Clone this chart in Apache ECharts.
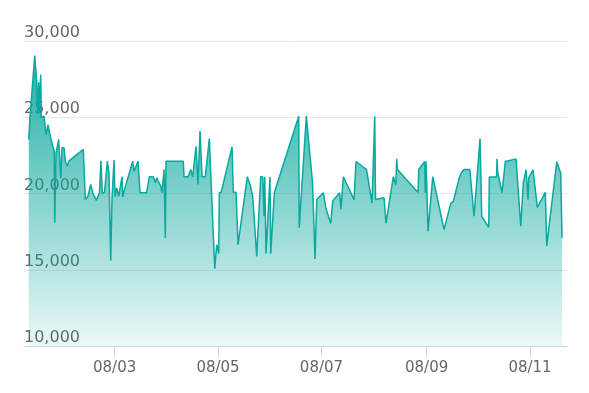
<!DOCTYPE html>
<html><head><meta charset="utf-8">
<script src="https://cdn.jsdelivr.net/npm/echarts@6/dist/echarts.min.js"></script>
<style>html,body{margin:0;padding:0;background:#fff}#c{width:589px;height:393px}</style>
</head><body><div id="c"></div>
<script>
// day of year 2008 (0 = Jan 1)
const days = [9.34,10.10,12.88,14.05,14.64,15.23,15.71,16.41,16.77,18.36,19.54,20.72,22.31,23.49,24.38,24.67,25.44,26.20,27.03,28.21,28.98,30.16,30.92,32.10,32.93,41.54,42.72,44.31,45.90,47.08,49.21,51.09,51.92,52.75,54.04,55.70,56.70,57.70,58.47,59.23,59.65,60.24,61.24,62.42,64.37,64.78,65.55,70.68,71.44,73.80,74.98,78.93,80.47,82.83,84.00,84.83,85.60,87.19,87.96,89.14,89.90,90.32,100.52,100.93,103.29,104.89,106.06,108.01,109.19,110.37,111.55,113.50,115.85,119.04,120.22,121.40,121.75,122.93,129.24,130.01,131.60,132.78,138.27,140.16,141.45,143.81,146.17,147.35,148.12,148.53,149.30,151.66,152.07,154.19,168.58,168.88,173.07,176.72,178.20,179.20,183.09,184.68,187.46,188.64,192.71,193.47,194.89,201.20,202.38,208.57,211.81,213.41,213.88,218.89,220.07,224.38,225.85,226.38,226.74,238.95,239.36,242.90,243.25,243.66,244.85,247.62,254.28,258.23,259.77,263.30,264.48,266.08,269.50,271.97,275.51,276.52,280.64,281.00,285.24,285.54,285.95,288.49,290.43,296.75,299.52,301.05,302.64,303.82,304.24,306.77,309.31,314.03,314.85,320.75,323.11,323.88];
const values = [23540,25000,29050,27300,25200,27300,25300,27800,25000,25070,23870,24500,23650,23100,22800,18080,22670,22700,23540,21000,23000,23000,22120,21790,22120,22890,19600,19820,20600,20050,19550,20050,22150,20000,20080,22120,21300,15600,19700,19700,22200,19800,20370,19820,21100,19780,20150,22120,21460,22120,20050,20050,21100,21100,20700,21030,21000,20480,20050,21570,17090,22120,22120,21100,21100,21570,21100,23100,20600,24100,21100,21100,23600,15060,16650,16060,20050,20100,23060,20080,20080,16650,21100,20500,19800,15880,21100,21100,18510,21100,16060,21100,16060,20050,25070,17750,25100,20700,15700,19600,20050,19000,18030,19500,20050,18950,21100,19600,22100,21570,19370,25070,19600,19720,18050,21100,20550,22270,21570,20060,21570,22100,20050,22100,17530,21100,17640,19340,19500,21030,21360,21570,21570,18510,23600,18490,17780,21080,21080,22270,21400,20050,22100,22270,17850,20700,21570,19600,21030,21550,19090,20080,16560,22080,21330,17090];
const tickDays = [60,121,182,244,305];
const tickLabels = ['08/03','08/05','08/07','08/09','08/11'];

const chart = echarts.init(document.getElementById('c'));
chart.setOption({
  animation:false,
  grid:{left:24,right:22,top:41,bottom:47},
  xAxis:{
    type:'value', min:6.56, max:326.8,
    axisLine:{lineStyle:{color:'#ccd6eb'}},
    axisTick:{customValues:tickDays, length:10, lineStyle:{color:'#ccd6eb'}},
    axisLabel:{customValues:tickDays, formatter:v=>tickLabels[tickDays.indexOf(v)], color:'#666', fontSize:15, fontFamily:'DejaVu Sans', margin:15},
    splitLine:{show:false}
  },
  yAxis:{
    type:'value', min:10000, max:30000, interval:5000,
    axisLine:{show:false}, axisTick:{show:false},
    splitLine:{lineStyle:{color:'#e6e6e6'}},
    axisLabel:{inside:true, margin:0, verticalAlign:'bottom', color:'#666', fontSize:16, fontFamily:'DejaVu Sans',
      formatter:v=>v.toLocaleString('en-US')}
  },
  series:[{
    type:'line', data:days.map((d,i)=>[d,values[i]]), showSymbol:false,
    lineStyle:{color:'#0aa89e', width:1.5},
    itemStyle:{color:'#0aa89e'},
    areaStyle:{opacity:1, color:new echarts.graphic.LinearGradient(0,0,0,1,[{offset:0,color:'rgba(10,168,158,0.92)'},{offset:1,color:'rgba(10,168,158,0.08)'}])}
  }]
});
</script></body></html>
